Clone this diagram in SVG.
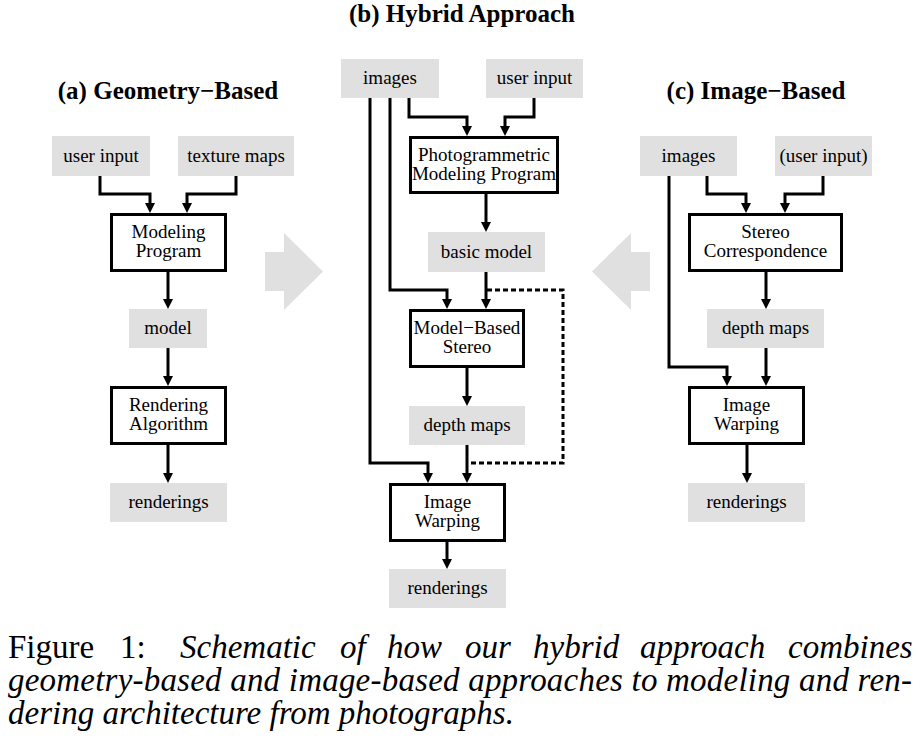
<svg xmlns="http://www.w3.org/2000/svg" width="920" height="739" viewBox="0 0 920 739">
<style>
.bg{fill:#ffffff}
.data{fill:#e0e0e0}
.proc{fill:#ffffff;stroke:#000;stroke-width:3}
.t{font-family:"Liberation Serif","Times New Roman",serif;font-size:19px;fill:#000;text-anchor:middle}
.title{font-family:"Liberation Serif","Times New Roman",serif;font-size:25px;font-weight:bold;fill:#000;text-anchor:middle}
.cap{font-family:"Liberation Serif","Times New Roman",serif;font-size:33px;fill:#000}
.it{font-style:italic}
.c{fill:none;stroke:#000;stroke-width:3;stroke-linejoin:miter}
.dash{fill:none;stroke:#000;stroke-width:3;stroke-dasharray:5,3}
.big{fill:#e0e0e0}
</style>
<defs>
<marker id="ah" markerUnits="userSpaceOnUse" markerWidth="10" markerHeight="10" viewBox="0 0 10 10" refX="0" refY="5" orient="auto">
<path d="M0,0 L10,5 L0,10 z" fill="#000"/>
</marker>
</defs>
<rect class="bg" x="0" y="0" width="920" height="739"/>

<text class="title" x="168" y="99">(a) Geometry−Based</text>
<text class="title" x="462" y="22">(b) Hybrid Approach</text>
<text class="title" x="756" y="99">(c) Image−Based</text>

<g id="bigarrows">
<polygon class="big" points="265,252 284,252 284,233 323,271.5 284,310 284,291 265,291"/>
<polygon class="big" points="650,252 631,252 631,233 592,271.5 631,310 631,291 650,291"/>
</g>

<!-- (a) -->
<g id="a-user"><rect class="data" x="52" y="136" width="98" height="40"/><text class="t" x="101" y="161.5">user input</text></g>
<g id="a-texture"><rect class="data" x="178" y="136" width="116" height="40"/><text class="t" x="236" y="161.5">texture maps</text></g>
<g id="a-modeling"><rect class="proc" x="111.5" y="214.5" width="114" height="56"/><text class="t" x="168.5" y="238">Modeling</text><text class="t" x="168.5" y="257">Program</text></g>
<g id="a-model"><rect class="data" x="129" y="309" width="78" height="39"/><text class="t" x="168" y="334">model</text></g>
<g id="a-render"><rect class="proc" x="111.5" y="387.5" width="114" height="56"/><text class="t" x="168.5" y="411">Rendering</text><text class="t" x="168.5" y="430">Algorithm</text></g>
<g id="a-renderings"><rect class="data" x="110" y="483" width="117" height="39"/><text class="t" x="168.5" y="508">renderings</text></g>

<!-- (b) -->
<g id="b-images"><rect class="data" x="341" y="59" width="98" height="39"/><text class="t" x="390" y="84">images</text></g>
<g id="b-user"><rect class="data" x="486" y="59" width="97" height="39"/><text class="t" x="534.5" y="84">user input</text></g>
<g id="b-photo"><rect class="proc" x="410.5" y="137.5" width="147" height="55"/><text class="t" x="484" y="160.5">Photogrammetric</text><text class="t" x="484" y="179.5">Modeling Program</text></g>
<g id="b-basic"><rect class="data" x="428" y="232" width="117" height="40"/><text class="t" x="486.5" y="257.5">basic model</text></g>
<g id="b-mbs"><rect class="proc" x="410.5" y="310.5" width="113" height="56"/><text class="t" x="467" y="334">Model−Based</text><text class="t" x="467" y="353">Stereo</text></g>
<g id="b-depth"><rect class="data" x="409" y="406" width="116" height="39"/><text class="t" x="467" y="431">depth maps</text></g>
<g id="b-warp"><rect class="proc" x="390.5" y="484.5" width="114" height="56"/><text class="t" x="447.5" y="508">Image</text><text class="t" x="447.5" y="527">Warping</text></g>
<g id="b-renderings"><rect class="data" x="389" y="569" width="117" height="39"/><text class="t" x="447.5" y="594">renderings</text></g>

<!-- (c) -->
<g id="c-images"><rect class="data" x="640" y="136" width="97" height="40"/><text class="t" x="688.5" y="161.5">images</text></g>
<g id="c-user"><rect class="data" x="775" y="136" width="97" height="40"/><text class="t" x="823.5" y="161.5">(user input)</text></g>
<g id="c-stereo"><rect class="proc" x="689.5" y="214.5" width="152" height="56"/><text class="t" x="765.5" y="238">Stereo</text><text class="t" x="765.5" y="257">Correspondence</text></g>
<g id="c-depth"><rect class="data" x="707" y="309" width="117" height="39"/><text class="t" x="765.5" y="334">depth maps</text></g>
<g id="c-warp"><rect class="proc" x="689.5" y="387.5" width="114" height="56"/><text class="t" x="746.5" y="411">Image</text><text class="t" x="746.5" y="430">Warping</text></g>
<g id="c-renderings"><rect class="data" x="688" y="483" width="117" height="39"/><text class="t" x="746.5" y="508">renderings</text></g>

<g id="connectors">
<!-- a -->
<path class="c" marker-end="url(#ah)" d="M100,176 V194 H150 V203"/>
<path class="c" marker-end="url(#ah)" d="M236,176 V194 H187 V203"/>
<path class="c" marker-end="url(#ah)" d="M168,272 V299"/>
<path class="c" marker-end="url(#ah)" d="M168,348 V376"/>
<path class="c" marker-end="url(#ah)" d="M168,445 V473"/>
<!-- b -->
<path class="c" marker-end="url(#ah)" d="M409,98 V117 H467 V126"/>
<path class="c" marker-end="url(#ah)" d="M534,98 V117 H505 V126"/>
<path class="c" marker-end="url(#ah)" d="M390,98 V290 H447 V299"/>
<path class="c" marker-end="url(#ah)" d="M370,98 V463 H428 V473"/>
<path class="c" marker-end="url(#ah)" d="M486,194 V222"/>
<path class="c" marker-end="url(#ah)" d="M486,272 V299"/>
<path class="dash" d="M487,290 H563 V463 H468"/>
<path class="c" marker-end="url(#ah)" d="M467,368 V396"/>
<path class="c" marker-end="url(#ah)" d="M467,445 V473"/>
<path class="c" marker-end="url(#ah)" d="M447,542 V559"/>
<!-- c -->
<path class="c" marker-end="url(#ah)" d="M707,176 V194 H746 V203"/>
<path class="c" marker-end="url(#ah)" d="M823,176 V194 H785 V203"/>
<path class="c" marker-end="url(#ah)" d="M669,176 V367 H727 V376"/>
<path class="c" marker-end="url(#ah)" d="M766,272 V299"/>
<path class="c" marker-end="url(#ah)" d="M766,348 V376"/>
<path class="c" marker-end="url(#ah)" d="M747,445 V473"/>
</g>

<g id="caption">
<text class="cap" y="658"><tspan x="8">Figure</tspan><tspan x="120">1:</tspan><tspan class="it" x="180">Schematic</tspan><tspan class="it" x="340">of</tspan><tspan class="it" x="387">how</tspan><tspan class="it" x="465">our</tspan><tspan class="it" x="533">hybrid</tspan><tspan class="it" x="640">approach</tspan><tspan class="it" x="788">combines</tspan></text>
<text class="cap it" x="8" y="691" textLength="904" lengthAdjust="spacing">geometry-based and image-based approaches to modeling and ren-</text>
<text class="cap it" x="8" y="724">dering architecture from photographs.</text>
</g>
</svg>
